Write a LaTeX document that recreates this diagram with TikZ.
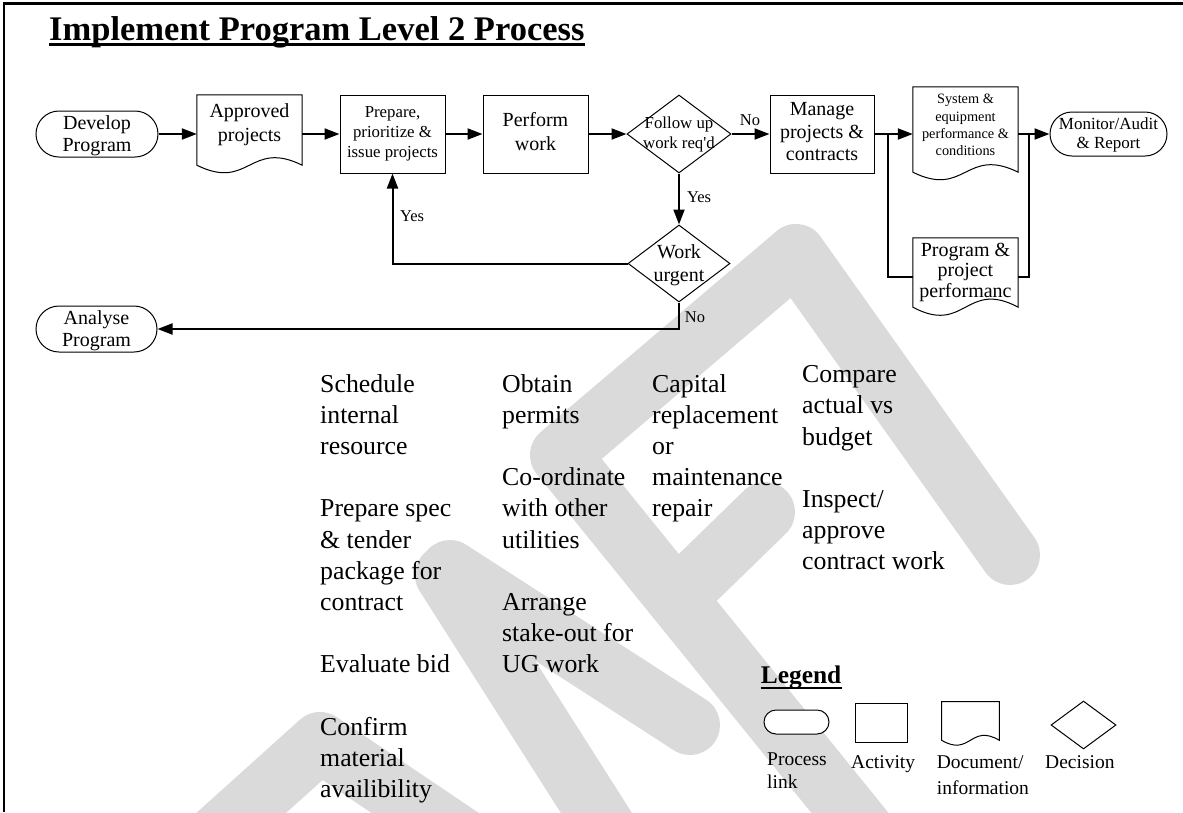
\documentclass[tikz,border=0pt]{standalone}
\usepackage{fontspec}
\setmainfont{Liberation Serif}
\usetikzlibrary{arrows.meta,shapes.geometric,calc}
\pgfdeclarelayer{watermark}
\pgfdeclarelayer{outlines}
\pgfsetlayers{watermark,outlines,main}
\definecolor{wmgray}{RGB}{218,218,218}
\newcommand{\setsize}[2]{\fontsize{#1}{#2}\selectfont}
% document symbol: flat top, wavy bottom edge, drawn around a named node
\newcommand{\docoutline}[2]{%
  \draw[docline] (#1.north west) -- (#1.north east) -- (#1.south east)
    .. controls ($(#1.south)+(0,-#2)$) and ($(#1.south)+(0,#2)$) .. (#1.south west) -- cycle;}

\begin{document}
\begin{tikzpicture}[x=1pt,y=-1pt,
  shapeline/.style={draw, line width=1pt, fill=white, inner sep=0pt},
  terminal/.style={shapeline, rectangle, rounded corners=#1},
  activity/.style={shapeline, rectangle},
  decision/.style={shapeline, diamond},
  docarea/.style={rectangle, inner sep=0pt},
  docline/.style={line width=1pt, fill=white},
  lbl/.style={align=center, inner sep=0pt, execute at begin node=\strut, execute at end node=\strut},
  column/.style={lbl, align=left, anchor=west, font=\setsize{25.8}{31.2}},
  link/.style={line width=2pt},
  arr/.style={link, -{Triangle[length=15pt,width=11pt]}},
  cond/.style={inner sep=0pt, font=\setsize{16.5}{18}},
  legtext/.style={anchor=base west, inner sep=0pt, font=\setsize{19.5}{23}},
  wm/.style={wmgray, line width=60pt, line cap=round, line join=round}
]
\useasboundingbox (0,0) rectangle (1183,812);

% ---------- watermark ----------
\begin{pgfonlayer}{watermark}
  \draw[wm] (1010,555) -- (796,254) -- (560,455) -- (880,850);
  \draw[wm] (690,585) -- (765,512);
  \draw[wm] (445,575) -- (620,850);
  \draw[wm] (450,570) -- (690,725);
  \draw[wm] (200,850) -- (320,742) -- (480,850);
\end{pgfonlayer}

% ---------- frame and title ----------
\draw[line width=2.5pt] (1183,3.5) -- (3.8,3.5) -- (3.8,812);
\node[anchor=base west, inner sep=0pt, font=\bfseries\setsize{34.5}{40}] (title) at (49,40.5) {Implement Program Level 2 Process};
\draw[line width=2.2pt] ($(title.base west)+(0,4)$) -- ($(title.base east)+(0,4)$);

% ---------- flow ----------
\node[terminal=23, minimum width=122, minimum height=46] (dev) at (97,134) {};
\node[lbl, font=\setsize{20}{21.7}] (devtxt) at (97,136.5) {Develop\\Program};

\node[docarea, minimum width=105, minimum height=70] (app) at (249.5,130) {};
\node[lbl, font=\setsize{20}{24}] (apptxt) at (249.5,126.5) {Approved\\projects};

\node[activity, minimum width=105, minimum height=78] (prep) at (392.5,134) {};
\node[lbl, font=\setsize{16.8}{19.75}] (preptxt) at (392.5,134.8) {Prepare,\\prioritize \&\\issue projects};

\node[activity, minimum width=105, minimum height=78] (perf) at (535.5,134) {};
\node[lbl, font=\setsize{20}{24}] (perftxt) at (535.5,135.2) {Perform\\work};

\node[decision, minimum width=104, minimum height=78] (fu) at (679,134) {};
\node[lbl, font=\setsize{16.8}{20}] (futxt) at (679,136) {Follow up\\work req\textquotesingle d};

\node[decision, minimum width=102, minimum height=77] (wu) at (679,263.5) {};
\node[lbl, font=\setsize{20}{23}] (wutxt) at (679,266.4) {Work\\urgent};

\node[activity, minimum width=104, minimum height=78] (man) at (822,134) {};
\node[lbl, font=\setsize{20}{22.4}] (mantxt) at (822,134.9) {Manage\\projects \&\\contracts};

\node[docarea, minimum width=105, minimum height=85] (sys) at (965.5,129.5) {};
\node[lbl, font=\setsize{14.3}{17.4}] (systxt) at (965.5,127.7) {System \&\\equipment\\performance \&\\conditions};

\node[docarea, minimum width=105, minimum height=69] (prog) at (965.5,272.5) {};
\node[lbl, font=\setsize{20}{20.5}] (progtxt) at (965.5,273.4) {Program \&\\project\\performanc};

\node[terminal=22, minimum width=117, minimum height=44] (mon) at (1108.5,134) {};
\node[lbl, font=\setsize{17}{19}] (montxt) at (1108.5,135.7) {Monitor/Audit\\\& Report};

\node[terminal=23, minimum width=121, minimum height=46] (ana) at (96.5,329) {};
\node[lbl, font=\setsize{20}{21.7}] (anatxt) at (96.5,331.5) {Analyse\\Program};

\begin{pgfonlayer}{outlines}
  \docoutline{app}{26}
  \docoutline{sys}{26}
  \docoutline{prog}{28}
\end{pgfonlayer}

% connectors
\coordinate (jl) at (888,134);
\coordinate (jllow) at (888,277);
\coordinate (jr) at (1029,134);
\coordinate (jrlow) at (1029,277);

\draw[arr] (dev.east) -- (app.west |- dev.east);
\draw[arr] (app.east |- prep.west) -- (prep.west);
\draw[arr] (prep.east) -- (perf.west);
\draw[arr] (perf.east) -- (fu.west);
\draw[arr] (fu.east) -- (man.west);
\draw[arr] (fu.south) -- (wu.north);
\draw[arr] (wu.west) -| (prep.south);
\draw[arr] (wu.south) |- (ana.east);
\draw[arr] (man.east) -- (sys.west |- man.east);
\draw[link] (jl) -- (jllow) -- (prog.west |- jllow);
\draw[link] (sys.east |- jr) -- (jr);
\draw[link] (prog.east |- jrlow) -- (jrlow) -- (jr);
\draw[arr] (jr) -- (mon.west);

\node[cond] (noA) at (750,120) {No};
\node[cond] (yesA) at (699,197) {Yes};
\node[cond] (yesB) at (412,216) {Yes};
\node[cond] (noB) at (695,317) {No};

% ---------- task lists ----------
\node[column] (colA) at (320,590.6) {Schedule\\internal\\resource\\[31.2pt]Prepare spec\\\& tender\\package for\\contract\\[31.2pt]Evaluate bid\\[31.2pt]Confirm\\material\\availibility};
\node[column] (colB) at (502,528.2) {Obtain\\permits\\[31.2pt]Co-ordinate\\with other\\utilities\\[31.2pt]Arrange\\stake-out for\\UG work};
\node[column] (colC) at (652,450.2) {Capital\\replacement\\or\\maintenance\\repair};
\node[column] (colD) at (802,472.4) {Compare\\actual vs\\budget\\[31.2pt]Inspect/\\approve\\contract work};

% ---------- legend ----------
\node[anchor=base west, inner sep=0pt, font=\bfseries\setsize{25.4}{30}] (legend) at (760.7,683.3) {Legend};
\draw[line width=1.8pt] ($(legend.base west)+(0,4.4)$) -- ($(legend.base east)+(0,4.4)$);

\node[terminal=12, minimum width=65, minimum height=24] (legterm) at (796.5,722) {};
\node[activity, minimum width=52, minimum height=39.4] (legact) at (881.7,723) {};
\node[docarea, minimum width=57.3, minimum height=38.3] (legdoc) at (970.4,720.9) {};
\node[decision, minimum width=65, minimum height=48] (legdec) at (1083.5,725) {};
\begin{pgfonlayer}{outlines}
  \docoutline{legdoc}{17}
\end{pgfonlayer}

\node[legtext] (lgA) at (767,765) {Process};
\node[legtext] (lgA2) at (767,788) {link};
\node[legtext] (lgB) at (851,768) {Activity};
\node[legtext] (lgC) at (936.7,768) {Document/};
\node[legtext] (lgC2) at (936.7,794) {information};
\node[legtext] (lgD) at (1045,768) {Decision};
\end{tikzpicture}
\end{document}
